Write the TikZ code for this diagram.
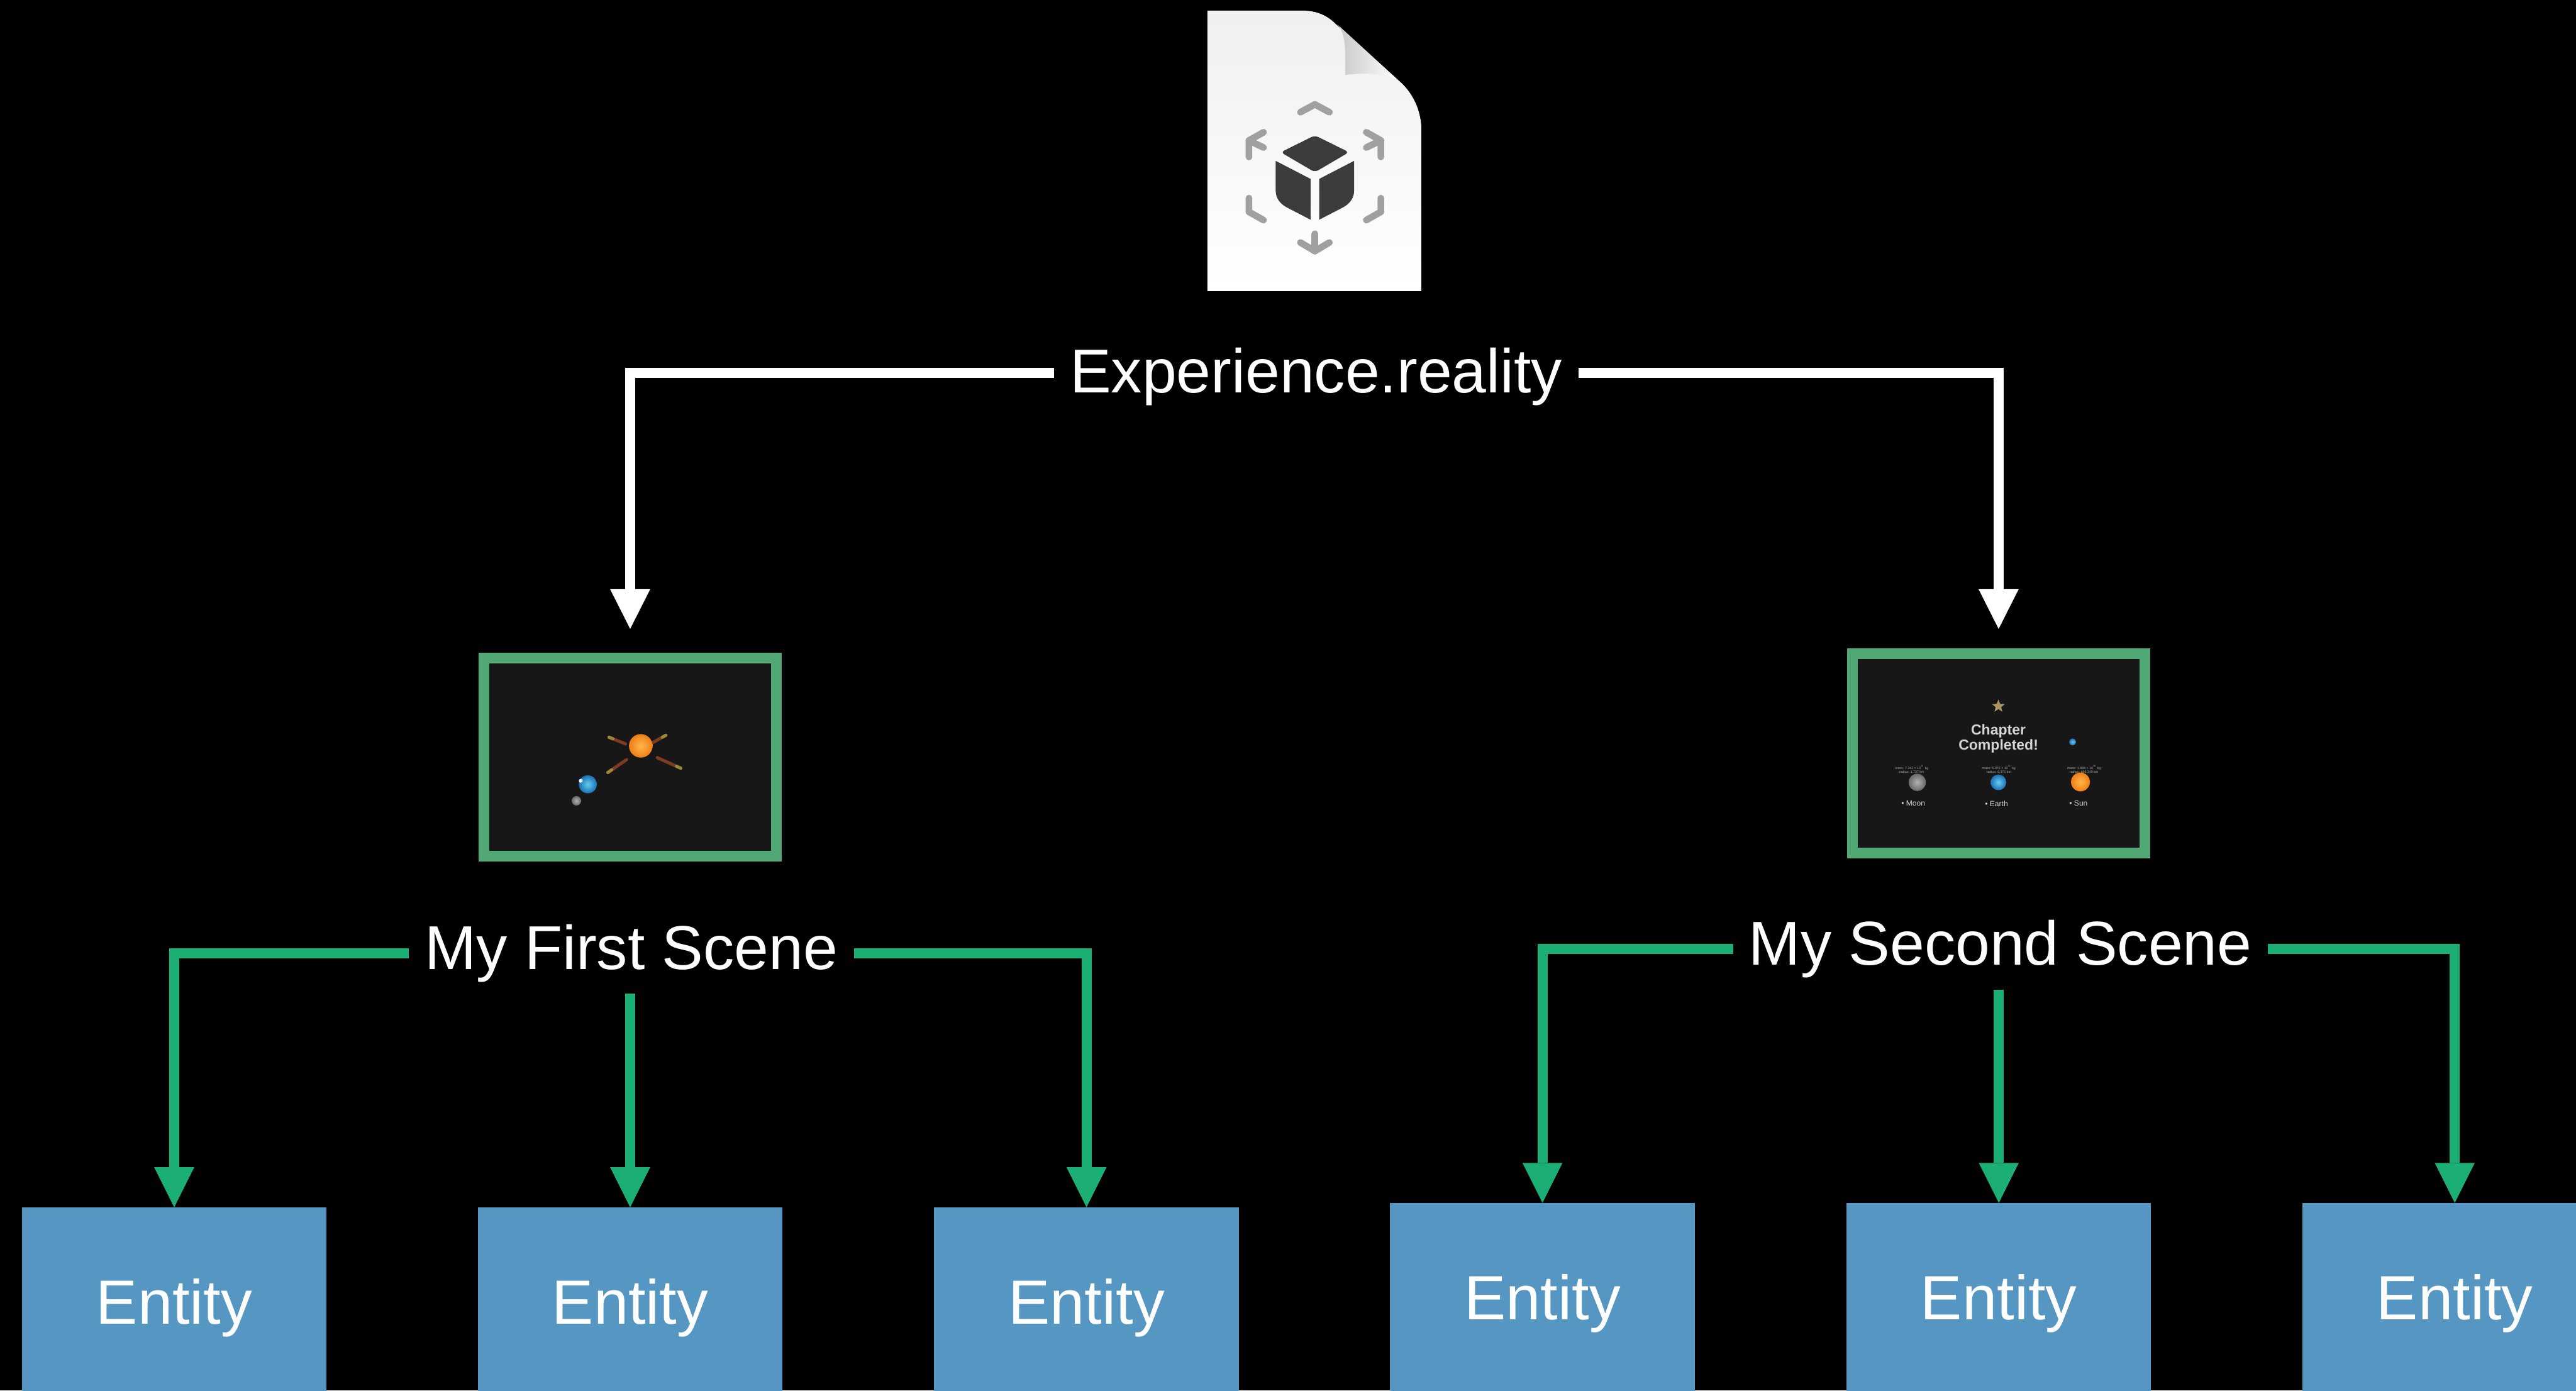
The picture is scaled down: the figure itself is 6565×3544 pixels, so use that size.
\documentclass[tikz,border=0pt]{standalone}
\usepackage{fontspec}
\setmainfont{Liberation Sans}
\usetikzlibrary{arrows.meta,shapes.geometric}

\definecolor{conngreen}{HTML}{1BAF75}
\definecolor{framegreen}{HTML}{52A875}
\definecolor{entblue}{HTML}{5597C2}
\definecolor{shotbg}{HTML}{171717}
\definecolor{cubegray}{HTML}{3C3C3C}
\definecolor{markgray}{HTML}{A0A0A0}
\definecolor{suninner}{HTML}{FFB74A}
\definecolor{sunouter}{HTML}{EE7F16}
\definecolor{earthinner}{HTML}{62D0EE}
\definecolor{earthouter}{HTML}{1E6FB4}
\definecolor{mooninner}{HTML}{B0B0B0}
\definecolor{moonouter}{HTML}{6A6A6A}
\definecolor{rodred}{HTML}{7E3A22}
\definecolor{rodyellow}{HTML}{9C8638}
\definecolor{startan}{HTML}{AD9563}
\definecolor{shottext}{HTML}{D6D6D6}

\begin{document}
\begin{tikzpicture}[x=0.01cm,y=-0.01cm,
  whiteconn/.style={draw=white, line width=0.26cm,
    -{Triangle[length=1.01cm,width=1.02cm,line width=0pt]}},
  greenconn/.style={draw=conngreen, line width=0.26cm,
    -{Triangle[length=1.02cm,width=1.02cm,line width=0pt]}},
  heading/.style={anchor=base, text=white, font=\fontsize{44.9}{50}\selectfont,
    text height=1.13cm, text depth=0pt, inner xsep=0.4cm, inner ysep=0pt},
  entity/.style={anchor=north, fill=entblue, text=white,
    font=\fontsize{45.3}{50}\selectfont, minimum width=7.76cm,
    minimum height=4.8cm, text height=1.14cm, text depth=0pt, inner sep=0pt},
  shotframe/.style={draw=framegreen, line width=0.27cm, fill=shotbg, inner sep=0pt},
  iconmark/.style={draw=markgray, line width=0.17cm, line cap=round, line join=round},
  rod/.style={line width=0.08cm, line cap=round},
  tinytext/.style={text=shottext!80!black, font=\fontsize{2.4}{2.8}\selectfont,
    align=center, inner sep=0pt},
  planetlabel/.style={text=shottext, font=\fontsize{5.5}{6}\selectfont, inner sep=0pt},
]
% canvas
\clip (0,0) rectangle (6565,3544);
\fill[black] (0,0) rectangle (6565,3544);

% ---------- document icon ----------
\coordinate (file) at (3351,385);
\shade[top color=black!6, middle color=white, bottom color=white]
  (3077,27) -- (3318,27) .. controls (3360,27) and (3385,42) .. (3406,63)
  -- (3563,204) .. controls (3600,235) and (3623,280) .. (3623,339)
  -- (3623,742) -- (3077,742) -- cycle;
% curled corner
\shade[left color=black!22, right color=white]
  (3408,62) .. controls (3428,82) and (3430,120) .. (3428,191)
  .. controls (3475,185) and (3530,186) .. (3563,204) -- cycle;
% cube
\fill[cubegray, rounded corners=0.1cm]
  (3351,345) -- (3438,388) -- (3351,439) -- (3264,388) -- cycle;
\fill[cubegray]
  (3251,410) -- (3340,456) -- (3340,560) -- (3282,530)
  .. controls (3262,520) and (3251,505) .. (3251,485) -- cycle;
\fill[cubegray]
  (3451,410) -- (3362,456) -- (3362,560) -- (3420,530)
  .. controls (3440,520) and (3451,505) .. (3451,485) -- cycle;
% bracket marks around the cube
\draw[iconmark] (3314,286) -- (3351,266) -- (3388,286);
\draw[iconmark] (3351,596) -- (3351,640);
\draw[iconmark] (3314,618) -- (3351,640) -- (3388,618);
\draw[iconmark] (3220,337) -- (3183,358) -- (3183,400);
\draw[iconmark] (3183,358) -- (3220,376);
\draw[iconmark] (3482,337) -- (3519,358) -- (3519,400);
\draw[iconmark] (3519,358) -- (3482,376);
\draw[iconmark] (3183,505) -- (3183,540) -- (3220,561);
\draw[iconmark] (3519,505) -- (3519,540) -- (3482,561);

% ---------- headings ----------
\node[heading] (exp) at (3354,1001) {Experience.reality};
\node[heading] (s1) at (1609,2470) {My First Scene};
\node[heading] (s2) at (5098,2460) {My Second Scene};

% ---------- scene previews ----------
\node[shotframe, minimum width=7.45cm, minimum height=5.04cm] (th1) at (1606,1929.5) {};
\node[shotframe, minimum width=7.44cm, minimum height=5.07cm] (th2) at (5093.5,1920) {};

% first preview: sun with earth and moon
\draw[rod, rodred] (1594,1896) -- (1552,1879);
\draw[rod, rodred] (1663,1893) -- (1697,1874);
\draw[rod, rodred] (1597,1936) -- (1549,1969);
\draw[rod, rodred] (1675,1931) -- (1735,1958);
\draw[rod, rodyellow] (1562,1883) -- (1552,1879);
\draw[rod, rodyellow] (1688,1879) -- (1697,1874);
\draw[rod, rodyellow] (1559,1962) -- (1549,1969);
\draw[rod, rodyellow] (1724,1953) -- (1735,1958);
\shade[inner color=suninner, outer color=sunouter] (1633,1901) circle (0.30cm);
\shade[inner color=earthinner, outer color=earthouter] (1498,1999) circle (0.23cm);
\fill[white!85!earthinner] (1480,1990) circle (0.05cm);
\shade[inner color=mooninner, outer color=moonouter] (1469,2041) circle (0.12cm);

% second preview: chapter summary
\node[star, star points=5, star point ratio=2.3, fill=startan, minimum size=0.34cm,
  inner sep=0pt] (badge) at (5093,1800) {};
\node[text=shottext, font=\bfseries\fontsize{10.5}{11.1}\selectfont, align=center,
  inner sep=0pt] (chapter) at (5093,1883) {Chapter\\Completed!};
\shade[inner color=earthinner, outer color=earthouter] (5282,1891) circle (0.09cm);
\shade[inner color=mooninner, outer color=moonouter] (4886,1994) circle (0.22cm);
\shade[inner color=earthinner, outer color=earthouter] (5093,1994) circle (0.20cm);
\shade[inner color=suninner, outer color=sunouter] (5302,1993) circle (0.24cm);
\node[tinytext] (moonfacts) at (4872,1961)
  {mass: 7.342 × 10\textsuperscript{22} kg\\radius: 1,737 km};
\node[tinytext] (earthfacts) at (5094,1961)
  {mass: 5.972 × 10\textsuperscript{24} kg\\radius: 6,371 km};
\node[tinytext] (sunfacts) at (5311,1961)
  {mass: 1.989 × 10\textsuperscript{30} kg\\radius: 696,340 km};
\node[planetlabel] (moonlbl) at (4876,2048) {• Moon};
\node[planetlabel] (earthlbl) at (5088,2048) {• Earth};
\node[planetlabel] (sunlbl) at (5297,2048) {• Sun};

% ---------- entities ----------
\node[entity] (e1) at (444,3077) {Entity};
\node[entity] (e2) at (1606,3077) {Entity};
\node[entity] (e3) at (2769,3077) {Entity};
\node[entity] (e4) at (3931,3066) {Entity};
\node[entity] (e5) at (5094,3066) {Entity};
\node[entity] (e6) at (6256,3066) {Entity};

% ---------- connectors ----------
\draw[whiteconn, shorten >=0.61cm] ([yshift=-0.06cm]exp.west) -| (th1.north);
\draw[whiteconn, shorten >=0.50cm] ([yshift=-0.06cm]exp.east) -| (th2.north);

\coordinate (s1foot) at ([yshift=-0.62cm]s1.base);
\coordinate (s2foot) at ([yshift=-0.62cm]s2.base);

\draw[greenconn] ([yshift=-0.165cm]s1.west) -| (e1.north);
\draw[greenconn] (s1foot -| e2.north) -- (e2.north);
\draw[greenconn] ([yshift=-0.165cm]s1.east) -| (e3.north);

\draw[greenconn] ([yshift=-0.155cm]s2.west) -| (e4.north);
\draw[greenconn] (s2foot -| e5.north) -- (e5.north);
\draw[greenconn] ([yshift=-0.155cm]s2.east) -| (e6.north);
\end{tikzpicture}
\end{document}
